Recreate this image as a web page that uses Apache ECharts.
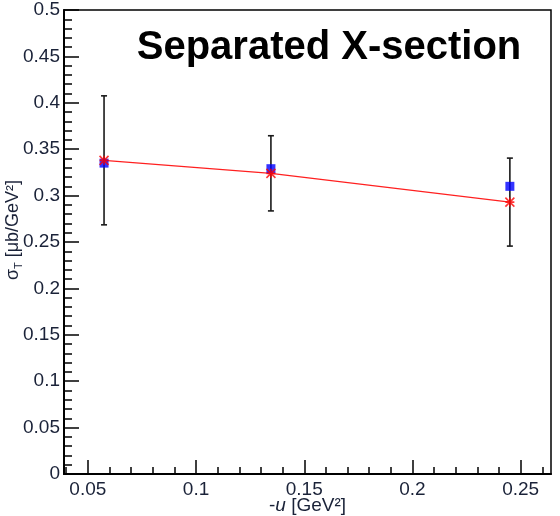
<!DOCTYPE html>
<html>
<head>
<meta charset="utf-8">
<script src="https://cdn.jsdelivr.net/npm/echarts@6/dist/echarts.min.js"></script>
<style>html,body{margin:0;padding:0;background:#fff;}#c{width:560px;height:516px;}</style>
</head>
<body>
<div id="c"></div>
<script>
// -u values [GeV^2]
const uValues = [0.0575, 0.1346, 0.245];
// separated cross section (blue squares)
const sigmaSep = [0.335, 0.329, 0.310];
// model / reference points (red stars), error bars centred on them
const sigmaModel = [0.338, 0.324, 0.293];
const sigmaErr = [0.0695, 0.0405, 0.0474];
// axis ticks
const xMajorTicks = [0.05, 0.1, 0.15, 0.2, 0.25];
const xMinorTicks = [0.04, 0.05, 0.06, 0.07, 0.08, 0.09, 0.10, 0.11, 0.12, 0.13, 0.14, 0.15, 0.16, 0.17, 0.18, 0.19, 0.20, 0.21, 0.22, 0.23, 0.24, 0.25, 0.26];
const xRange = [0.039, 0.264];
const yRange = [0, 0.5];
const yStep = 0.05;
const titleText = 'Separated X-section';

const FONT = "'Liberation Sans', Arial, sans-serif";
const LBL = '#1a2238';

const chart = echarts.init(document.getElementById('c'), null, {renderer: 'canvas'});

const errData = uValues.map((u, i) => [u, sigmaModel[i], sigmaErr[i]]);
const sepData = uValues.map((u, i) => [u, sigmaSep[i]]);
const modelData = uValues.map((u, i) => [u, sigmaModel[i]]);

const option = {
  animation: false,
  backgroundColor: '#fff',
  grid: {left: 64, right: 9, top: 10, bottom: 42, containLabel: false, outerBoundsMode: 'none',
    show: true, borderColor: '#000', borderWidth: 1.5, backgroundColor: 'transparent'},
  graphic: [{
    type: 'text', x: 329, y: 48, z: 100,
    style: {text: titleText, font: "bold 40px 'Liberation Sans', Arial, sans-serif", fill: '#000',
      textAlign: 'center', textVerticalAlign: 'middle', align: 'center', verticalAlign: 'middle'}
  }],
  xAxis: [{
    type: 'value', min: xRange[0], max: xRange[1], position: 'bottom',
    axisLine: {show: true, onZero: false, lineStyle: {color: '#000', width: 2}},
    axisTick: {show: true, inside: true, length: 14, customValues: xMajorTicks, lineStyle: {color: '#000', width: 1.5}},
    axisLabel: {show: true, customValues: xMajorTicks, margin: 6, fontSize: 19, fontFamily: FONT, color: LBL,
      formatter: v => String(+v.toFixed(2))},
    splitLine: {show: false},
    name: '-{i|u} [GeV²]', nameLocation: 'middle', nameGap: 22, nameMoveOverlap: false,
    nameTextStyle: {fontSize: 19, fontFamily: FONT, color: LBL, rich: {i: {fontSize: 19, fontFamily: FONT, fontStyle: 'italic', color: LBL}}}
  }, {
    type: 'value', min: xRange[0], max: xRange[1], position: 'bottom',
    axisLine: {show: false},
    axisTick: {show: true, inside: true, length: 7, customValues: xMinorTicks, lineStyle: {color: '#000', width: 1.5}},
    axisLabel: {show: false},
    splitLine: {show: false}
  }],
  yAxis: {
    type: 'value', min: yRange[0], max: yRange[1], interval: yStep,
    axisLine: {show: true, onZero: false, lineStyle: {color: '#000', width: 2}},
    axisTick: {show: true, inside: true, length: 15, lineStyle: {color: '#000', width: 1.5}},
    minorTick: {show: true, splitNumber: 5, length: 8, lineStyle: {color: '#000', width: 1.5}},
    axisLabel: {margin: 4, fontSize: 19, fontFamily: FONT, color: LBL, formatter: v => String(+v.toFixed(2))},
    splitLine: {show: false},
    name: '{n|σ}{s|T}{n| [μb/GeV²]}', nameLocation: 'middle', nameGap: 40, nameRotate: 90, nameMoveOverlap: false,
    nameTextStyle: {fontSize: 18, fontFamily: FONT, color: LBL, padding: [0, 0, 0, 24],
      rich: {n: {fontSize: 18, fontFamily: FONT, color: LBL, lineHeight: 22},
             s: {fontSize: 11, fontFamily: FONT, color: LBL, lineHeight: 22, verticalAlign: 'bottom'}}}
  },
  series: [{
    type: 'custom', xAxisIndex: 0, data: errData, z: 2,
    renderItem: function (params, api) {
      const x = api.value(0), y = api.value(1), e = api.value(2);
      const t = api.coord([x, y + e]);
      const b = api.coord([x, y - e]);
      const st = {stroke: '#1a1a1a', lineWidth: 1.6};
      return {type: 'group', children: [
        {type: 'line', shape: {x1: t[0], y1: t[1], x2: b[0], y2: b[1]}, style: st},
        {type: 'line', shape: {x1: t[0] - 3, y1: t[1], x2: t[0] + 3, y2: t[1]}, style: st},
        {type: 'line', shape: {x1: b[0] - 3, y1: b[1], x2: b[0] + 3, y2: b[1]}, style: st}
      ]};
    }
  }, {
    type: 'line', xAxisIndex: 0, data: modelData, z: 3, symbol: 'none',
    lineStyle: {color: '#ff2020', width: 1.2}
  }, {
    type: 'scatter', xAxisIndex: 0, data: sepData, z: 4, symbol: 'rect', symbolSize: 9,
    itemStyle: {color: '#0000ff'}
  }, {
    type: 'scatter', xAxisIndex: 0, data: modelData, z: 5,
    symbol: 'path://M0,0L10,10M10,0L0,10M5,0L5,10M0,5L10,5', symbolSize: 9,
    itemStyle: {color: 'none', borderColor: '#ff0000', borderWidth: 1.6}
  }]
};
chart.setOption(option);
</script>
</body>
</html>
